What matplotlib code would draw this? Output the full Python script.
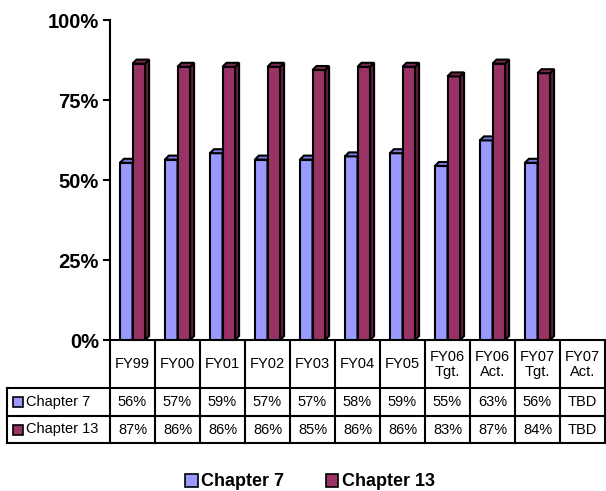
import matplotlib
matplotlib.use("Agg")
import matplotlib.pyplot as plt
from matplotlib.patches import Polygon, Rectangle, Patch

plt.rcParams['font.family'] = ['Liberation Sans', 'DejaVu Sans']

categories = ["FY99", "FY00", "FY01", "FY02", "FY03", "FY04", "FY05",
              "FY06\nTgt.", "FY06\nAct.", "FY07\nTgt.", "FY07\nAct."]
ch7 = [56, 57, 59, 57, 57, 58, 59, 55, 63, 56, None]
ch13 = [87, 86, 86, 86, 85, 86, 86, 83, 87, 84, None]
ch7_labels = ["56%", "57%", "59%", "57%", "57%", "58%", "59%", "55%", "63%", "56%", "TBD"]
ch13_labels = ["87%", "86%", "86%", "86%", "85%", "86%", "86%", "83%", "87%", "84%", "TBD"]
series_names = ["Chapter 7", "Chapter 13"]
yticks = [0, 25, 50, 75, 100]

W, H = 606, 491
fig = plt.figure(figsize=(W / 100, H / 100), dpi=100)
ax_l, ax_r, ax_t, ax_b = 110, 605, 20, 340
ax = fig.add_axes([ax_l / W, 1 - ax_b / H, (ax_r - ax_l) / W, (ax_b - ax_t) / H])
n = len(categories)
ax.set_xlim(-0.5, n - 0.5)
ax.set_ylim(0, 100)

colw = (ax_r - ax_l) / n          # px per category
pxy = (ax_b - ax_t) / 100.0       # px per percent
dx = 4 / colw
dy = 4 / pxy
bw = 0.28

styles = [
    dict(front="#9999FF", side="#6666CC", top="#7B7BE0"),
    dict(front="#993366", side="#5E1F3F", top="#7A2952"),
]
elw = 1.5


def bar3d(x0, v, st):
    x1 = x0 + bw
    h = v - dy / 2
    ax.add_patch(Rectangle((x0, 0), bw, h, facecolor=st["front"], edgecolor="black", lw=elw, zorder=3))
    ax.add_patch(Polygon([(x1, 0), (x1 + dx, dy), (x1 + dx, h + dy), (x1, h)], closed=True,
                         facecolor=st["side"], edgecolor="black", lw=elw, zorder=3))
    ax.add_patch(Polygon([(x0, h), (x0 + dx, h + dy), (x1 + dx, h + dy), (x1, h)], closed=True,
                         facecolor=st["top"], edgecolor="black", lw=elw, zorder=3))


for i in range(n):
    if ch7[i] is not None:
        bar3d(i - bw, ch7[i], styles[0])
    if ch13[i] is not None:
        bar3d(i, ch13[i], styles[1])

# axes styling
for s in ["top", "right"]:
    ax.spines[s].set_visible(False)
ax.spines["left"].set_linewidth(1.5)
ax.spines["bottom"].set_linewidth(1.5)
ax.set_yticks(yticks)
ax.set_yticklabels([f"{t}%" for t in yticks], fontsize=14.5, fontweight="bold")
ax.tick_params(axis="y", length=5, width=1.5, pad=3)
ax.set_xticks([])

# table
def yfrac(py):
    return (ax_b - py) / (ax_b - ax_t)

tr = ax.get_xaxis_transform()
lbl_left = -0.5 - (ax_l - 7) / colw
y_top, y_h, y_r1, y_r2 = yfrac(341), yfrac(388), yfrac(416), yfrac(443)
lw = 1.5
for i in range(n + 1):
    ax.plot([i - 0.5, i - 0.5], [y_top, y_r2], color="black", lw=lw, transform=tr, clip_on=False,
            solid_capstyle="projecting")
ax.plot([lbl_left, lbl_left], [y_h, y_r2], color="black", lw=lw, transform=tr, clip_on=False)
for yy in [y_h, y_r1, y_r2]:
    ax.plot([lbl_left, n - 0.5], [yy, yy], color="black", lw=lw, transform=tr, clip_on=False,
            solid_capstyle="projecting")

for i, c in enumerate(categories):
    ax.text(i, (y_top + y_h) / 2, c, ha="center", va="center", fontsize=10.5,
            linespacing=1.05, transform=tr, clip_on=False)
    ax.text(i, (y_h + y_r1) / 2, ch7_labels[i], ha="center", va="center", fontsize=10.5,
            transform=tr, clip_on=False)
    ax.text(i, (y_r1 + y_r2) / 2, ch13_labels[i], ha="center", va="center", fontsize=10.5,
            transform=tr, clip_on=False)

txt_x = -0.5 - (ax_l - 26) / colw
for k, (yc, name) in enumerate([((y_h + y_r1) / 2, series_names[0]), ((y_r1 + y_r2) / 2, series_names[1])]):
    ax.text(txt_x, yc, name, ha="left", va="center", fontsize=10.5, transform=tr, clip_on=False)
    py = ax_b - yc * (ax_b - ax_t)
    fig.patches.append(Rectangle((13 / W, 1 - (py + 5) / H), 10 / W, 10 / H,
                                 facecolor=styles[k]["front"], edgecolor="black", lw=1.2,
                                 transform=fig.transFigure, figure=fig))

# legend
handles = [Patch(facecolor=styles[0]["front"], edgecolor="black", lw=1.2),
           Patch(facecolor=styles[1]["front"], edgecolor="black", lw=1.2)]
fig.legend(handles, series_names, loc="center", bbox_to_anchor=(310 / W, 1 - 482 / H),
           ncol=2, frameon=False, prop=dict(size=13, weight="bold"),
           handlelength=0.7, handleheight=0.7, handletextpad=0.2, columnspacing=2.3,
           borderpad=0, borderaxespad=0)

fig.savefig("out.png", dpi=100)
